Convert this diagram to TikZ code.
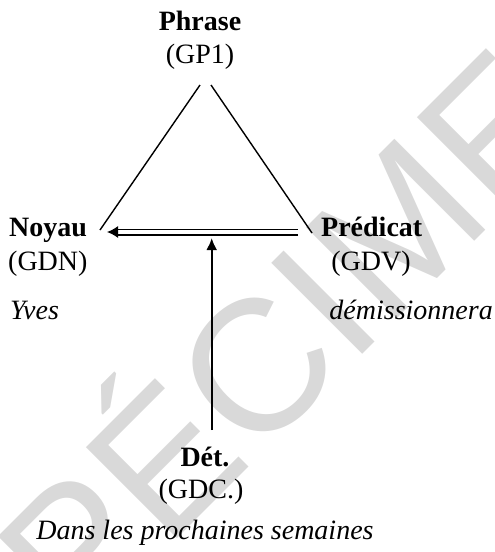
\documentclass[tikz,border=0pt]{standalone}
\usepackage{fontspec}
\setmainfont{Liberation Serif}
\newfontfamily\wmfont{Liberation Sans}
\usetikzlibrary{arrows.meta}
\definecolor{wmgray}{HTML}{D9D9D9}
\tikzset{
  lbl/.style={anchor=base, inner sep=0pt, font=\fontsize{28}{33}\selectfont},
  bl/.style={lbl, font=\fontsize{28}{33}\selectfont\bfseries},
  it/.style={lbl, font=\fontsize{28}{33}\selectfont\itshape},
  edge/.style={line width=1.4pt},
}
\begin{document}
\begin{tikzpicture}[x=1pt,y=-1pt]
\useasboundingbox (0,0) rectangle (495,552);
% watermark
\node[rotate=45, anchor=base west, text=wmgray, font=\fontsize{187}{187}\selectfont\wmfont, inner sep=0pt] (wm) at (-10,726.5) {SPÉCIMEN};
% labels
\node[bl] (phrase) at (200,30) {Phrase};
\node[lbl] (gp1) at (200,63) {(GP1)};
\node[bl, anchor=base west] (noyau) at (9,236) {Noyau};
\node[lbl, anchor=base west] (gdn) at (8,270) {(GDN)};
\node[it, anchor=base west] (yves) at (10,319) {Yves};
\node[bl, anchor=base west] (predicat) at (321,236) {Prédicat};
\node[lbl] (gdv) at (371,270) {(GDV)};
\node[it, anchor=base east] (dem) at (493,319) {démissionnera};
\node[bl] (det) at (205,466) {Dét.};
\node[lbl] (gdc) at (201,498) {(GDC.)};
\node[it] (dans) at (205,539) {Dans les prochaines semaines};
% connector end points
\coordinate (tl) at (200,85);
\coordinate (tr) at (211,85);
\coordinate (nl) at (100,230);
\coordinate (pr) at (312,233);
\coordinate (ds) at (298,232);
\coordinate (de) at (118,232);
\coordinate (dt) at (107,232);
\coordinate (vb) at (211.7,430);
\coordinate (vt) at (211.7,238);
% triangle
\draw[edge] (tl) -- (nl);
\draw[edge] (tr) -- (pr);
% double arrow
\draw[line width=1.5pt, double, double distance=4pt] (ds) -- (de);
\draw[line width=1.5pt, -{Latex[length=11pt,width=12pt]}] (de) -- (dt);
% vertical arrow
\draw[line width=2.2pt, -{Latex[length=12pt,width=11pt]}] (vb) -- (vt);
\end{tikzpicture}
\end{document}
